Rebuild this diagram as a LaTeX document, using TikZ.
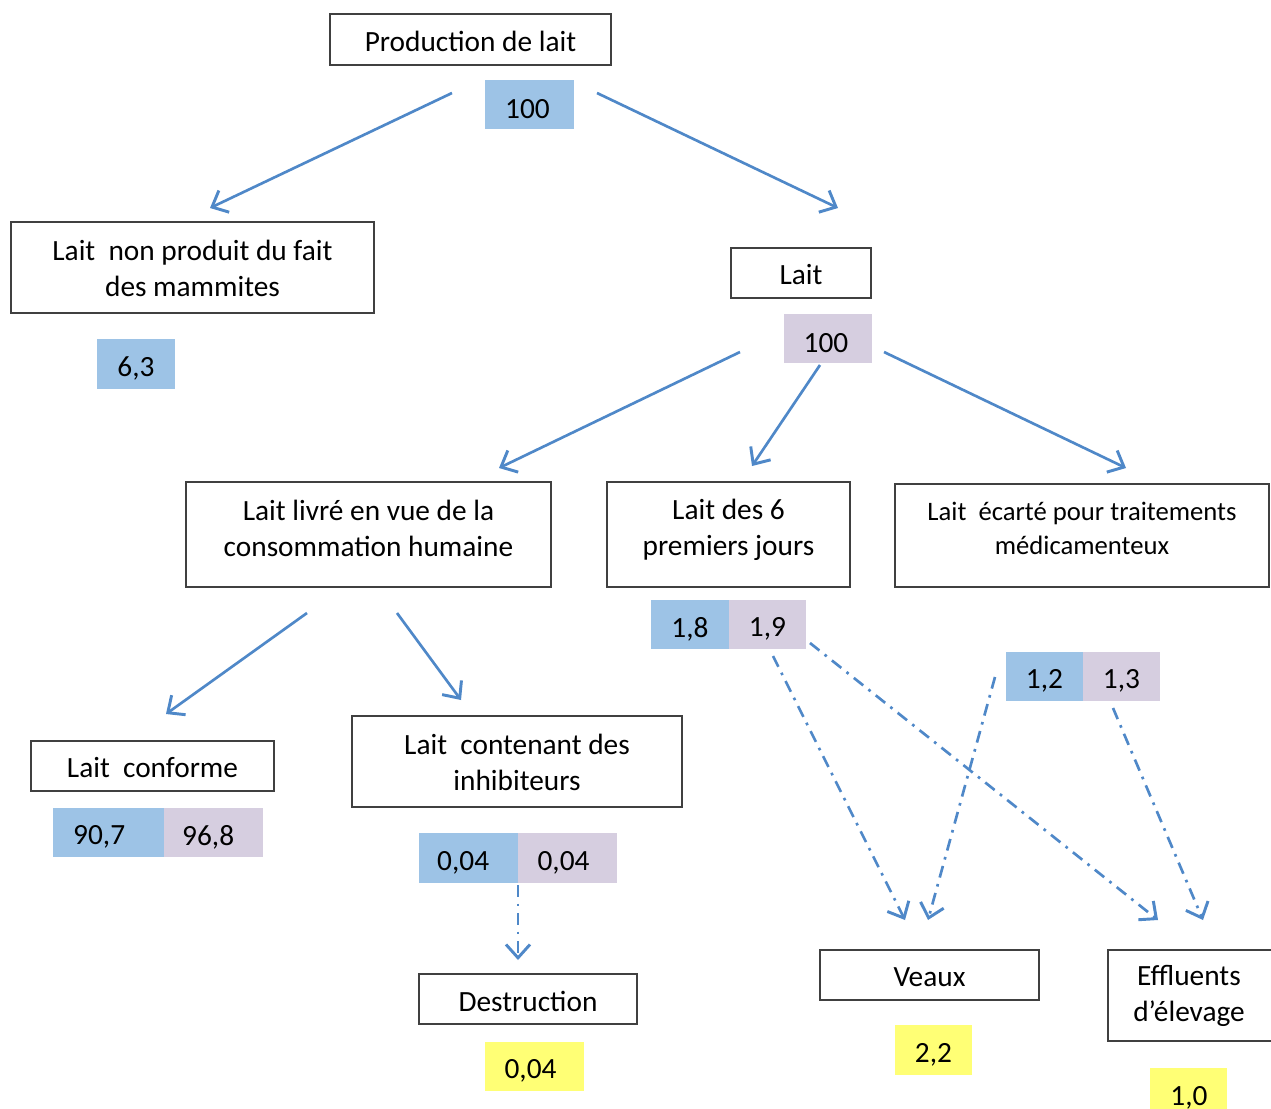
\documentclass[tikz,border=0pt]{standalone}
\usepackage{fontspec}
\setmainfont{Carlito}
\usetikzlibrary{fit,arrows.meta}
\definecolor{vblue}{HTML}{9DC3E6}
\definecolor{vlav}{HTML}{D6CEE0}
\definecolor{vyel}{HTML}{FFFF75}
\definecolor{arr}{HTML}{4F88C8}
\begin{document}
\begin{tikzpicture}[x=0.75pt,y=-0.75pt,
  box/.style={draw=black!75,line width=0.8pt,inner sep=0pt},
  lbl/.style={align=center,inner sep=0pt,font=\fontsize{22}{27}\selectfont,yshift=-1.5pt},
  num/.style={inner sep=0pt,font=\fontsize{22}{27}\selectfont,yshift=-3.5pt},
  vb/.style={inner sep=0pt,fill=vblue},
  vl/.style={inner sep=0pt,fill=vlav},
  vy/.style={inner sep=0pt,fill=vyel},
  flow/.style={draw=arr,line width=2pt,-{Straight Barb[length=10pt,width=18pt,line width=2.2pt]}},
  dflow/.style={flow,dash pattern=on 9pt off 5pt on 2pt off 5pt},
]
\useasboundingbox (0,0) rectangle (1271,1108);
% boxes
\node[box,fit={(330,14)(611,65)}] (prod) {};
\node[lbl] (tprod) at (prod.center) {Production de lait};
\node[vb,fit={(485,80)(574,129)}] (v100a) {};
\node[num,xshift=-1.5pt] (t100a) at (v100a.center) {100};

\node[box,fit={(11,222)(374,313)}] (mam) {};
\node[lbl,yshift=1pt] (tmam) at (mam.center) {Lait\ \ non produit du fait\\des mammites};
\node[vb,fit={(97,339)(175,389)}] (v63) {};
\node[num] (t63) at (v63.center) {6,3};

\node[box,fit={(731,248)(871,298)}] (lait) {};
\node[lbl] (tlait) at (lait.center) {Lait};
\node[vl,fit={(784,314)(872,363)}] (v100b) {};
\node[num,xshift=-1.5pt] (t100b) at (v100b.center) {100};

\node[box,fit={(186,482)(551,587)}] (livre) {};
\node[lbl,yshift=6pt] (tlivre) at (livre.center) {Lait livré en vue de la\\consommation humaine};
\node[box,fit={(607,482)(850,587)}] (six) {};
\node[lbl,yshift=5pt] (tsix) at (six.center) {Lait des 6\\premiers jours};
\node[box,fit={(895,484)(1269,587)}] (ecart) {};
\node[lbl,font=\fontsize{20}{25.5}\selectfont,yshift=7pt] (tecart) at (ecart.center) {Lait\ \ écarté pour traitements\\médicamenteux};

\node[vb,fit={(651,600)(729,649)}] (v18) {};
\node[num] (t18) at (v18.center) {1,8};
\node[vl,fit={(729,600)(806,649)}] (v19) {};
\node[num] (t19) at (v19.center) {1,9};
\node[vb,fit={(1006,652)(1083,701)}] (v12) {};
\node[num] (t12) at (v12.center) {1,2};
\node[vl,fit={(1083,652)(1160,701)}] (v13) {};
\node[num] (t13) at (v13.center) {1,3};

\node[box,fit={(31,741)(274,791)}] (conf) {};
\node[lbl] (tconf) at (conf.center) {Lait\ \ conforme};
\node[vb,fit={(53,808)(164,857)}] (v907) {};
\node[num,xshift=-7pt] (t907) at (v907.center) {90,7};
\node[vl,fit={(164,808)(263,857)}] (v968) {};
\node[num,xshift=-4pt] (t968) at (v968.center) {96,8};

\node[box,fit={(352,716)(682,807)}] (inhib) {};
\node[lbl,yshift=1pt] (tinhib) at (inhib.center) {Lait\ \ contenant des\\inhibiteurs};
\node[vb,fit={(419,833)(518,883)}] (v004a) {};
\node[num,xshift=-4pt] (t004a) at (v004a.center) {0,04};
\node[vl,fit={(518,833)(617,883)}] (v004b) {};
\node[num,xshift=-3pt] (t004b) at (v004b.center) {0,04};

\node[box,fit={(419,974)(637,1024)}] (dest) {};
\node[lbl] (tdest) at (dest.center) {Destruction};
\node[vy,fit={(485,1042)(584,1091)}] (v004c) {};
\node[num,xshift=-3pt] (t004c) at (v004c.center) {0,04};

\node[box,fit={(820,950)(1039,1000)}] (veaux) {};
\node[lbl] (tveaux) at (veaux.center) {Veaux};
\node[vy,fit={(895,1025)(972,1075)}] (v22) {};
\node[num] (t22) at (v22.center) {2,2};

\node[box,fit={(1108,950)(1275,1041)}] (eff) {};
\node[lbl,yshift=1pt] (teff) at (1189,995) {Effluents\\d’élevage};
\node[vy,fit={(1150,1068)(1227,1115)}] (v10) {};
\node[num,yshift=1.5pt] (t10) at (1189,1095) {1,0};

% connector end points
\coordinate (a1s) at (452,93); \coordinate (a1e) at (210,208);
\coordinate (a2s) at (597,93); \coordinate (a2e) at (838,208);
\coordinate (b1s) at (740,352); \coordinate (b1e) at (499,468);
\coordinate (b2s) at (820,365); \coordinate (b2e) at (752,466);
\coordinate (b3s) at (884,352); \coordinate (b3e) at (1126,468);
\coordinate (c1s) at (307,613); \coordinate (c1e) at (166,714);
\coordinate (c2s) at (397,613); \coordinate (c2e) at (461,700);
\coordinate (d0s) at (518,885); \coordinate (d0e) at (518,960);
\coordinate (d1s) at (773,656); \coordinate (d1e) at (905,920);
\coordinate (d2s) at (810,643); \coordinate (d2e) at (1158,920);
\coordinate (d3s) at (995,677); \coordinate (d3e) at (928,920);
\coordinate (d4s) at (1113,708); \coordinate (d4e) at (1203,920);

\draw[flow] (a1s) -- (a1e);
\draw[flow] (a2s) -- (a2e);
\draw[flow] (b1s) -- (b1e);
\draw[flow] (b2s) -- (b2e);
\draw[flow] (b3s) -- (b3e);
\draw[flow] (c1s) -- (c1e);
\draw[flow] (c2s) -- (c2e);
\draw[dflow] (d0s) -- (d0e);
\draw[dflow] (d1s) -- (d1e);
\draw[dflow] (d2s) -- (d2e);
\draw[dflow] (d3s) -- (d3e);
\draw[dflow] (d4s) -- (d4e);
\end{tikzpicture}
\end{document}
